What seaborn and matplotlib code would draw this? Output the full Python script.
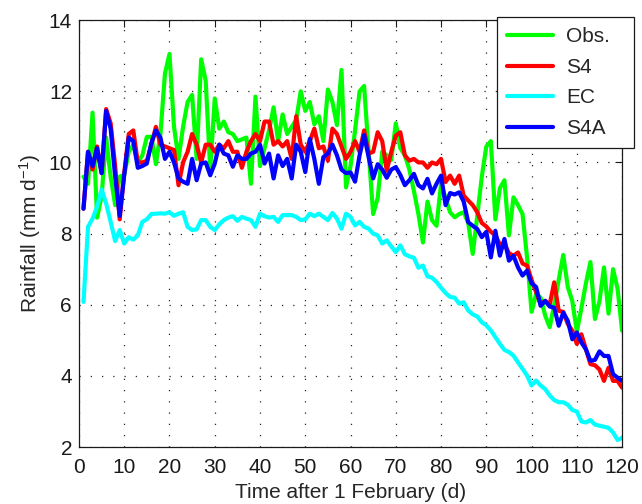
import numpy as np
import pandas as pd
import matplotlib
matplotlib.use('Agg')
import matplotlib.pyplot as plt
import seaborn as sns

# data (daily values, day 1..120)
days = np.arange(1, 121)

obs = [9.6, 9.4, 11.4, 8.45, 9.05, 10.7, 9.6, 8.8, 9.6, 9.65,
       10.3, 10.5, 10.0, 10.2, 10.72, 10.72, 9.95, 10.8, 12.5, 13.05,
       11.0, 10.1, 11.0, 11.7, 11.9, 10.1, 12.9, 12.3, 9.8, 11.8,
       10.95, 11.15, 10.85, 10.8, 10.6, 10.65, 10.7, 9.4, 11.85, 9.9,
       10.4, 10.9, 11.55, 10.6, 11.35, 10.8, 11.0, 11.2, 12.0, 11.45,
       11.7, 11.07, 11.3, 10.6, 12.05, 11.7, 11.05, 12.6, 9.3, 9.9,
       10.9, 12.0, 12.15, 10.3, 8.55, 9.0, 10.3, 10.2, 10.07, 11.1,
       10.4, 10.2, 9.8, 9.2, 8.55, 7.75, 8.9, 8.38, 8.22, 9.4,
       9.0, 8.6, 8.46, 8.55, 8.6, 8.3, 7.43, 8.5, 9.6, 10.45,
       10.6, 8.4, 9.28, 9.5, 7.95, 9.02, 8.8, 8.55, 7.33, 5.8,
       6.3, 6.2, 5.7, 5.37, 6.0, 6.7, 7.4, 6.5, 6.1, 5.25,
       5.9, 6.6, 7.2, 5.6, 6.1, 7.05, 5.75, 7.0, 6.45, 5.27]

s4 = [8.7, 10.3, 9.8, 10.45, 9.7, 11.5, 11.1, 9.9, 8.4, 9.7,
      10.8, 10.9, 10.0, 10.0, 10.05, 10.5, 11.0, 10.5, 10.45, 10.4,
      10.35, 9.36, 10.0, 10.3, 10.8, 10.5, 10.0, 10.5, 10.5, 10.3,
      10.5, 10.4, 10.6, 10.3, 10.3, 9.85, 10.3, 10.6, 10.8, 10.6,
      11.15, 11.15, 10.5, 10.6, 10.45, 10.6, 10.1, 11.3, 10.5, 10.3,
      10.6, 10.95, 10.4, 10.45, 10.05, 10.95, 10.8, 10.45, 10.1, 10.3,
      10.6, 10.3, 10.9, 10.25, 10.3, 10.85, 10.6, 9.77, 10.3, 10.75,
      10.85, 10.2, 10.05, 10.1, 10.0, 10.0, 9.85, 10.0, 9.95, 10.1,
      9.45, 9.63, 9.4, 9.63, 9.07, 8.93, 8.8, 8.6, 8.3, 8.2,
      8.05, 7.95, 7.7, 7.7, 7.45, 7.38, 7.47, 7.16, 7.1, 6.7,
      6.35, 6.02, 6.11, 6.0, 6.63, 5.83, 5.8, 5.46, 5.27, 4.9,
      5.17, 4.75, 4.33, 4.3, 4.18, 3.86, 4.23, 3.86, 3.86, 3.67]

ec = [6.08, 8.19, 8.42, 8.75, 9.24, 8.85, 8.33, 7.79, 8.1, 7.72,
      7.9, 7.83, 7.95, 8.33, 8.4, 8.55, 8.56, 8.57, 8.56, 8.6,
      8.5, 8.56, 8.6, 8.19, 8.1, 8.12, 8.38, 8.38, 8.19, 8.1,
      8.26, 8.38, 8.45, 8.49, 8.36, 8.47, 8.42, 8.38, 8.19, 8.56,
      8.49, 8.45, 8.47, 8.33, 8.52, 8.52, 8.52, 8.47, 8.38, 8.4,
      8.56, 8.49, 8.56, 8.47, 8.38, 8.58, 8.42, 8.14, 8.56, 8.47,
      8.23, 8.33, 8.19, 8.14, 8.0, 7.95, 7.72, 7.81, 7.64, 7.48,
      7.67, 7.42, 7.36, 7.32, 7.04, 7.1, 6.8, 6.76, 6.64, 6.48,
      6.33, 6.22, 6.2, 6.03, 6.07, 5.84, 5.73, 5.67, 5.51, 5.42,
      5.28, 5.09, 4.9, 4.73, 4.67, 4.57, 4.38, 4.2, 4.01, 3.73,
      3.87, 3.73, 3.63, 3.45, 3.32, 3.26, 3.26, 3.19, 3.04, 3.0,
      2.72, 2.69, 2.76, 2.63, 2.6, 2.57, 2.54, 2.41, 2.2, 2.26]

s4a = [8.7, 10.3, 9.9, 10.4, 9.7, 11.45, 10.95, 9.6, 8.5, 9.65,
       10.7, 10.6, 9.85, 9.9, 9.97, 10.55, 10.9, 10.7, 10.1, 10.3,
       10.0, 9.55, 9.46, 9.4, 10.1, 9.5, 9.97, 10.0, 9.64, 9.97,
       10.5, 10.25, 10.2, 9.88, 10.2, 10.1, 10.1, 10.25, 10.3, 10.5,
       9.97, 10.25, 9.55, 10.2, 9.9, 10.1, 9.55, 10.5, 10.3, 9.73,
       10.66, 10.1, 9.4, 10.15, 10.25, 10.5, 10.2, 9.8, 9.7, 9.72,
       9.46, 10.2, 10.77, 10.15, 9.55, 9.95, 9.8, 9.57, 9.8, 9.87,
       9.65, 9.36, 9.5, 9.68, 9.36, 9.27, 9.54, 9.13, 9.4, 9.63,
       8.8, 9.14, 9.1, 9.16, 8.9, 8.32, 8.22, 8.13, 7.9, 8.05,
       7.33, 8.08, 7.38, 7.85, 7.24, 7.38, 7.05, 6.82, 6.96, 6.6,
       6.5, 5.97, 6.11, 5.95, 5.92, 5.41, 5.78, 5.55, 5.03, 5.22,
       4.94, 4.75, 4.42, 4.45, 4.69, 4.56, 4.56, 4.05, 3.95, 3.86]

labels = ['Obs.', 'S4', 'EC', 'S4A']
colors = ['#00ff00', '#ff0000', '#00ffff', '#0000ff']

df = pd.DataFrame({'day': days, 'Obs.': obs, 'S4': s4, 'EC': ec, 'S4A': s4a})

sns.set_theme(style='white')
plt.rcParams['font.family'] = ['Liberation Sans', 'DejaVu Sans']
plt.rcParams['mathtext.fontset'] = 'custom'
plt.rcParams['mathtext.rm'] = 'Liberation Sans'
plt.rcParams['mathtext.it'] = 'Liberation Sans'

fig = plt.figure(figsize=(6.42, 5.04), dpi=100)
ax = fig.add_axes([0.123, 0.113, 0.846, 0.847])

for name, c in zip(labels, colors):
    sns.lineplot(data=df, x='day', y=name, color=c, linewidth=3, label=name, ax=ax)

ax.set_xlim(0, 120)
ax.set_ylim(2, 14)
ax.set_xticks(np.arange(0, 121, 10))
ax.set_yticks(np.arange(2, 15, 2))
ax.grid(True, linestyle=(0, (1, 8)), color='0.15', linewidth=0.9)
ax.tick_params(direction='in', top=True, right=True, length=5, width=0.8,
               labelsize=15, colors='k')
ax.tick_params(axis='x', pad=8)
ax.tick_params(axis='y', pad=5)
for s in ax.spines.values():
    s.set_color('k')
    s.set_linewidth(0.9)

ax.set_xlabel('Time after 1 February (d)', fontsize=15, labelpad=4)
ax.set_ylabel('Rainfall (mm d$^{\\mathregular{-1}}$)', fontsize=15, labelpad=4)

# legend box spans x 497..634 px, top at ~17 px
leg = ax.legend(loc='upper left', mode='expand',
                bbox_to_anchor=(497 / 642, 1 - 145 / 504, 137 / 642, 128 / 504),
                bbox_transform=fig.transFigure, fontsize=15, frameon=True,
                fancybox=False, framealpha=1, edgecolor='k',
                handlelength=2.2, handletextpad=0.6, labelspacing=0.55,
                borderpad=0.5, borderaxespad=0)
leg.get_frame().set_linewidth(0.9)

fig.savefig('out.png', dpi=100)
